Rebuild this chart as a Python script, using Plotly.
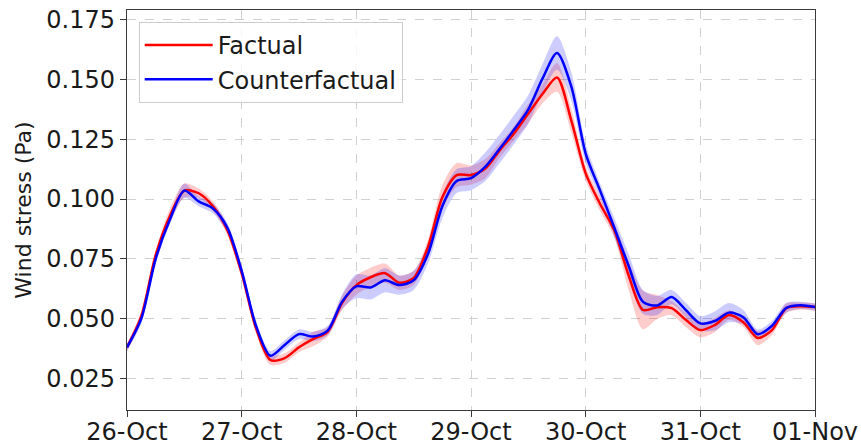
import plotly.graph_objects as go
import pandas as pd

# 3-hourly time axis, 26-Oct 00:00 to 01-Nov 00:00
times = pd.date_range("2023-10-26 00:00", "2023-11-01 00:00", freq="3h")

factual = [0.038, 0.051, 0.0765, 0.093, 0.1035, 0.1024, 0.097, 0.087, 0.069,
           0.046, 0.0327, 0.0335, 0.038, 0.0415, 0.0445, 0.0565, 0.064, 0.0673,
           0.069, 0.065, 0.067, 0.080, 0.1007, 0.110, 0.110, 0.1127, 0.1203,
           0.1274, 0.1357, 0.144, 0.1508, 0.1328, 0.1107, 0.098, 0.0869, 0.068,
           0.0536, 0.0548, 0.0544, 0.0494, 0.0452, 0.0473, 0.0515, 0.0485,
           0.0419, 0.0452, 0.0544, 0.0552, 0.0548]
factual_spread = [0.0015, 0.002, 0.002, 0.003, 0.003, 0.002, 0.002, 0.002, 0.002,
                  0.002, 0.002, 0.002, 0.002, 0.003, 0.002, 0.003, 0.004, 0.004,
                  0.004, 0.003, 0.003, 0.003, 0.005, 0.005, 0.004, 0.004, 0.003,
                  0.003, 0.004, 0.004, 0.006, 0.005, 0.003, 0.003, 0.003, 0.006,
                  0.008, 0.005, 0.003, 0.003, 0.003, 0.003, 0.002, 0.002, 0.003,
                  0.002, 0.002, 0.0015, 0.0015]

counterfactual = [0.038, 0.050, 0.075, 0.0915, 0.1035, 0.099, 0.096, 0.088, 0.070,
                  0.047, 0.0345, 0.039, 0.0435, 0.0425, 0.045, 0.057, 0.0635, 0.063,
                  0.066, 0.064, 0.066, 0.077, 0.097, 0.1075, 0.1087, 0.1135, 0.121,
                  0.129, 0.1375, 0.1505, 0.161, 0.147, 0.119, 0.1036, 0.088, 0.072,
                  0.057, 0.0555, 0.059, 0.0535, 0.048, 0.049, 0.0525, 0.0506, 0.0435,
                  0.047, 0.0545, 0.0556, 0.0548]
counterfactual_spread = [0.0015, 0.002, 0.002, 0.002, 0.003, 0.002, 0.002, 0.002, 0.002,
                         0.002, 0.002, 0.002, 0.002, 0.002, 0.002, 0.003, 0.005, 0.005,
                         0.005, 0.004, 0.004, 0.004, 0.005, 0.005, 0.005, 0.006, 0.006,
                         0.006, 0.006, 0.006, 0.007, 0.006, 0.004, 0.003, 0.004, 0.005,
                         0.005, 0.004, 0.003, 0.003, 0.003, 0.004, 0.004, 0.003, 0.002,
                         0.002, 0.002, 0.0015, 0.0015]

y_ticks = [0.025, 0.050, 0.075, 0.100, 0.125, 0.150, 0.175]
x_ticks = pd.date_range("2023-10-26", "2023-11-01", freq="1D")
x_tick_labels = ["26-Oct", "27-Oct", "28-Oct", "29-Oct", "30-Oct", "31-Oct", "01-Nov"]

series = [
    ("Factual", factual, factual_spread, "#ff0000", "rgba(255,0,0,0.2)"),
    ("Counterfactual", counterfactual, counterfactual_spread, "#0000ff", "rgba(0,0,255,0.2)"),
]

fig = go.Figure()
for name, vals, spread, col, fillc in series:
    upper = [v + s for v, s in zip(vals, spread)]
    lower = [v - s for v, s in zip(vals, spread)]
    fig.add_trace(go.Scatter(x=times, y=upper, mode="lines",
                             line=dict(width=0, shape="spline", smoothing=0.8),
                             showlegend=False, hoverinfo="skip"))
    fig.add_trace(go.Scatter(x=times, y=lower, mode="lines", fill="tonexty",
                             fillcolor=fillc,
                             line=dict(width=0, shape="spline", smoothing=0.8),
                             showlegend=False, hoverinfo="skip"))
for name, vals, spread, col, fillc in series:
    fig.add_trace(go.Scatter(x=times, y=vals, mode="lines", name=name,
                             line=dict(color=col, width=2.5, shape="spline", smoothing=0.8)))

axis_common = dict(
    showline=True, linecolor="#3a3a3a", linewidth=1.3, mirror=True,
    ticks="outside", ticklen=6, tickcolor="#3a3a3a", tickwidth=1.2,
    showgrid=True, gridcolor="#d0d0d0", griddash="dash", gridwidth=1,
    zeroline=False, automargin=False,
    tickfont=dict(family="DejaVu Sans", size=24, color="#1a1a1a"),
)

fig.update_layout(
    width=861, height=447,
    margin=dict(l=127, r=46, t=10, b=37),
    paper_bgcolor="white", plot_bgcolor="white",
    font=dict(family="DejaVu Sans", color="#1a1a1a"),
    xaxis=dict(range=[x_ticks[0], x_ticks[-1]], tickvals=x_ticks, ticktext=x_tick_labels,
               ticklabelstandoff=-6, **axis_common),
    yaxis=dict(range=[0.0118, 0.179], tickvals=y_ticks,
               ticktext=[f"{t:.3f}" for t in y_ticks],
               title=dict(text="Wind stress (Pa)", font=dict(size=22), standoff=8),
               **axis_common),
    legend=dict(x=0.017, y=0.97, xanchor="left", yanchor="top",
                traceorder="normal",
                bgcolor="rgba(255,255,255,0.8)", bordercolor="#cccccc", borderwidth=1,
                font=dict(size=24), itemwidth=68, tracegroupgap=0),
    showlegend=True,
)

fig.write_html("out.html", config={"displayModeBar": False},
               post_script="document.body.style.margin='0';document.body.style.padding='0';")
